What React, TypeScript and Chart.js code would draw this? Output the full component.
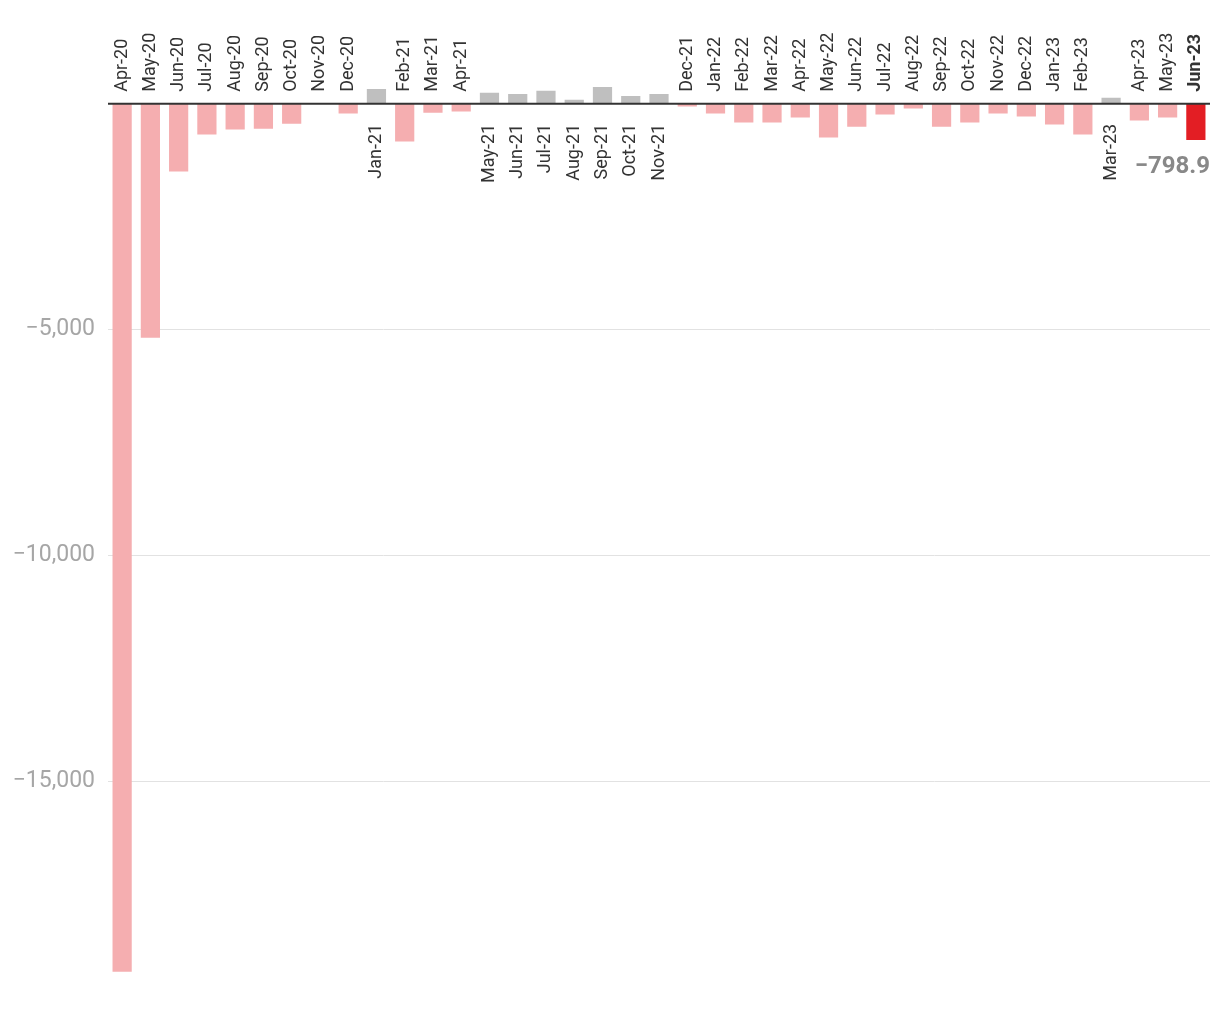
import React, { useEffect, useRef } from "react";
import { Chart, registerables } from "chart.js";

Chart.register(...registerables);

const months: string[] = [
  "Apr-20", "May-20", "Jun-20", "Jul-20", "Aug-20", "Sep-20", "Oct-20", "Nov-20", "Dec-20",
  "Jan-21", "Feb-21", "Mar-21", "Apr-21", "May-21", "Jun-21", "Jul-21", "Aug-21", "Sep-21",
  "Oct-21", "Nov-21", "Dec-21", "Jan-22", "Feb-22", "Mar-22", "Apr-22", "May-22", "Jun-22",
  "Jul-22", "Aug-22", "Sep-22", "Oct-22", "Nov-22", "Dec-22", "Jan-23", "Feb-23", "Mar-23",
  "Apr-23", "May-23", "Jun-23",
];

const values: number[] = [
  -19220, -5180, -1500, -680, -570, -550, -440, 0, -215,
  330, -835, -195, -170, 245, 220, 290, 90, 375,
  175, 220, -60, -215, -415, -415, -305, -745, -505,
  -235, -105, -505, -415, -215, -280, -460, -680, 135,
  -370, -305, -798.9,
];

const yTicks: number[] = [-15000, -10000, -5000];
const highlightLabel = "−798.9";

const PINK = "#f5aeb0";
const GRAY = "#bfbfbf";
const RED = "#e31e24";

const fmt = (v: number) => {
  const s = Math.abs(v).toLocaleString("en-US");
  return v < 0 ? "−" + s : s;
};

export default function App() {
  const ref = useRef<HTMLCanvasElement | null>(null);

  useEffect(() => {
    if (!ref.current) return;
    const last = values.length - 1;
    const colors = values.map((v, i) => (i === last ? RED : v > 0 ? GRAY : PINK));

    const labelPlugin = {
      id: "labelPlugin",
      afterDatasetsDraw(chart: any) {
        const { ctx, chartArea } = chart;
        const y = chart.scales.y;
        const zeroY = y.getPixelForValue(0);
        const meta = chart.getDatasetMeta(0);
        ctx.save();
        // zero line
        ctx.strokeStyle = "#333333";
        ctx.lineWidth = 2;
        ctx.beginPath();
        ctx.moveTo(chartArea.left, zeroY);
        ctx.lineTo(chartArea.right, zeroY);
        ctx.stroke();
        // category labels
        meta.data.forEach((bar: any, i: number) => {
          const v = values[i];
          ctx.save();
          ctx.translate(bar.x, 0);
          ctx.rotate(-Math.PI / 2);
          ctx.fillStyle = "#333333";
          ctx.textBaseline = "middle";
          ctx.font = (i === last ? "bold " : "") + "18px Roboto";
          if (v > 0) {
            ctx.textAlign = "right";
            ctx.fillText(months[i], -(zeroY + 20), 0);
          } else {
            ctx.textAlign = "left";
            ctx.fillText(months[i], -(zeroY - 12), 0);
          }
          ctx.restore();
        });
        // highlight value
        ctx.font = "bold 24px Roboto";
        ctx.fillStyle = "#888888";
        ctx.textAlign = "right";
        ctx.textBaseline = "middle";
        ctx.fillText(highlightLabel, chartArea.right, zeroY + 63);
        ctx.restore();
      },
    };

    const chart = new Chart(ref.current, {
      type: "bar",
      data: {
        labels: months,
        datasets: [
          {
            data: values,
            backgroundColor: colors,
            borderWidth: 0,
            barPercentage: 0.68,
            categoryPercentage: 1,
          },
        ],
      },
      options: {
        responsive: false,
        animation: false,
        layout: { padding: { left: 0, right: 2, top: 12, bottom: 40 } },
        plugins: { legend: { display: false }, tooltip: { enabled: false } },
        scales: {
          x: { display: false },
          y: {
            min: -19228,
            max: 1529,
            afterFit: (s: any) => {
              s.width = 100;
            },
            afterBuildTicks: (s: any) => {
              s.ticks = yTicks.map((v) => ({ value: v }));
            },
            border: { display: false },
            grid: { color: "#e2e2e2", lineWidth: 1, drawTicks: false },
            ticks: {
              padding: 13,
              color: "#a6a6a6",
              font: { family: "Roboto", size: 23 },
              callback: (v: any) => fmt(Number(v)),
            },
          },
        },
      },
      plugins: [labelPlugin],
    });
    return () => chart.destroy();
  }, []);

  return (
    <div style={{ width: 1204, height: 1004 }}>
      <canvas ref={ref} width={1204} height={1004} />
    </div>
  );
}
